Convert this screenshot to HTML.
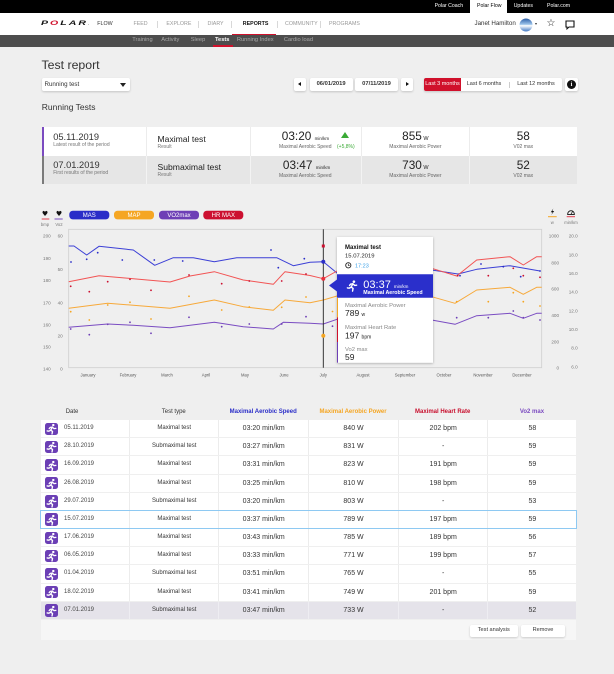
<!DOCTYPE html>
<html><head><meta charset="utf-8">
<style>
*{box-sizing:border-box}
body{margin:0;width:614px;height:674px;overflow:hidden;background:#efefef;position:relative;font-family:"Liberation Sans",Arial,sans-serif;color:#333}
.a{position:absolute;white-space:nowrap;line-height:1}
.box{position:absolute}
.sep{position:absolute;width:1px;height:7px;top:20.8px;background:#d8d8d8}
.btn{position:absolute;background:#fff;border-radius:2px;box-shadow:0 1px 2px rgba(0,0,0,.18)}
.row{position:absolute;left:40.7px;width:535.7px;height:17.2px;background:#fff}
.c{position:absolute;top:0;height:17.2px;border-left:1px solid #ececec;text-align:center;line-height:17.2px;font-size:7px;color:#333}
.ic{position:absolute;left:4.3px;top:2.5px;width:13px;height:12.3px;border-radius:2.5px;background:#6b3fb5}
.dt{position:absolute;left:23.3px;top:0;line-height:17.2px;font-size:6px;color:#444}
.tt{font-size:6px}
</style></head><body>

<svg width="0" height="0" style="position:absolute">
<defs>
<symbol id="run" viewBox="0 0 24 24">
<circle cx="15.5" cy="4" r="2.4" fill="#fff"/>
<g fill="none" stroke="#fff" stroke-width="2.6" stroke-linecap="round" stroke-linejoin="round">
<path d="M13.5 8 L10.5 14"/><path d="M10.5 14 L7 16 L3.5 15.5"/><path d="M10.5 14 L14 16.5 L13 21.5"/>
<path d="M13.5 8 L17 11 L20.5 10.5"/><path d="M13.5 8 L9.5 8.5 L7.5 11"/>
</g>
</symbol>
</defs>
</svg>

<!-- top black bar -->
<div class="box" style="left:0;top:0;width:614px;height:13px;background:#000"></div>
<div class="a" style="left:434.6px;top:3.9px;font-size:5.2px;color:#fff">Polar Coach</div>
<div class="box" style="left:470px;top:0;width:37px;height:13px;background:#fff"></div>
<div class="a" style="left:477px;top:3.9px;font-size:5.2px;color:#000">Polar Flow</div>
<div class="a" style="left:513.7px;top:3.9px;font-size:5.2px;color:#fff">Updates</div>
<div class="a" style="left:547px;top:3.9px;font-size:5.2px;color:#fff">Polar.com</div>

<!-- nav -->
<div class="box" style="left:0;top:13px;width:614px;height:22px;background:#fff"></div>
<div class="a" style="left:40.5px;top:20.6px;font-size:6.8px;font-weight:900;font-style:italic;letter-spacing:1.3px;color:#111;transform:scale(1.55,1);transform-origin:0 0">P<span style="color:#d0102b">O</span>LAR<span style="font-size:3px;letter-spacing:0">.</span></div>
<div class="a" style="left:97.3px;top:21.6px;font-size:5.3px;color:#333">FLOW</div>
<div class="a" style="left:133.5px;top:21.6px;font-size:5.3px;color:#999">FEED</div>
<div class="sep" style="left:156.6px"></div>
<div class="a" style="left:166.4px;top:21.6px;font-size:5.3px;color:#999">EXPLORE</div>
<div class="sep" style="left:197.7px"></div>
<div class="a" style="left:207.5px;top:21.6px;font-size:5.3px;color:#999">DIARY</div>
<div class="sep" style="left:231px"></div>
<div class="a" style="left:242.8px;top:21.6px;font-size:5.3px;color:#111;font-weight:bold">REPORTS</div>
<div class="box" style="left:231.8px;top:33.5px;width:44.2px;height:1.6px;background:#d0102b"></div>
<div class="sep" style="left:276.8px"></div>
<div class="a" style="left:285px;top:21.6px;font-size:5.3px;color:#999">COMMUNITY</div>
<div class="sep" style="left:320px"></div>
<div class="a" style="left:329px;top:21.6px;font-size:5.3px;color:#999">PROGRAMS</div>

<div class="a" style="left:474.5px;top:21px;font-size:6.2px;color:#333">Janet Hamilton</div>
<svg class="box" style="left:518.5px;top:17.5px" width="14" height="14" viewBox="0 0 14 14">
<defs><linearGradient id="av" x1="0" y1="0" x2="0" y2="1"><stop offset="0" stop-color="#2c5fa8"/><stop offset=".45" stop-color="#9cc3ea"/><stop offset=".55" stop-color="#fff"/><stop offset="1" stop-color="#3f78c4"/></linearGradient></defs>
<circle cx="7" cy="7" r="6.5" fill="url(#av)"/></svg>
<div class="box" style="left:535px;top:22.8px;width:0;height:0;border-left:1.8px solid transparent;border-right:1.8px solid transparent;border-top:2.4px solid #333"></div>
<div class="a" style="left:546.5px;top:19px;font-size:10px;color:#111;font-family:'DejaVu Sans',sans-serif">☆</div>
<svg class="box" style="left:565px;top:19.5px" width="10" height="10" viewBox="0 0 10 10">
<path d="M1 1 H9 V7 H4 L2 8.8 V7 H1 Z" fill="none" stroke="#111" stroke-width="1.1"/></svg>

<!-- subnav -->
<div class="box" style="left:0;top:35px;width:614px;height:12px;background:#4d4d4d"></div>
<div class="a" style="left:132.3px;top:38.1px;font-size:5.7px;color:#a9a9a9">Training</div>
<div class="a" style="left:161.3px;top:38.1px;font-size:5.7px;color:#a9a9a9">Activity</div>
<div class="a" style="left:190.7px;top:38.1px;font-size:5.7px;color:#a9a9a9">Sleep</div>
<div class="a" style="left:215px;top:38.1px;font-size:5.7px;color:#fff;font-weight:bold">Tests</div>
<div class="box" style="left:213.4px;top:45.4px;width:19.6px;height:1.6px;background:#d0102b"></div>
<div class="a" style="left:236.9px;top:38.1px;font-size:5.7px;color:#a9a9a9">Running Index</div>
<div class="a" style="left:283.9px;top:38.1px;font-size:5.7px;color:#a9a9a9">Cardio load</div>

<!-- title / controls -->
<div class="a" style="left:41.5px;top:59.3px;font-size:12.3px;color:#333">Test report</div>
<div class="btn" style="left:41.8px;top:78.3px;width:88px;height:13px"></div>
<div class="a" style="left:44.5px;top:81.7px;font-size:6.2px;color:#333">Running test</div>
<div class="box" style="left:120px;top:83.2px;width:0;height:0;border-left:3.2px solid transparent;border-right:3.2px solid transparent;border-top:4px solid #222"></div>

<div class="btn" style="left:294px;top:78.3px;width:12px;height:13px"></div>
<div class="box" style="left:298px;top:82px;width:0;height:0;border-top:2.8px solid transparent;border-bottom:2.8px solid transparent;border-right:3.6px solid #111"></div>
<div class="btn" style="left:309.6px;top:78.3px;width:43px;height:13px"></div>
<div class="a" style="left:309.6px;width:43px;text-align:center;top:81.9px;font-size:5.8px;font-weight:bold;color:#333">06/01/2019</div>
<div class="btn" style="left:355px;top:78.3px;width:43px;height:13px"></div>
<div class="a" style="left:355px;width:43px;text-align:center;top:81.9px;font-size:5.8px;font-weight:bold;color:#333">07/11/2019</div>
<div class="btn" style="left:401px;top:78.3px;width:12px;height:13px"></div>
<div class="box" style="left:405.5px;top:82px;width:0;height:0;border-top:2.8px solid transparent;border-bottom:2.8px solid transparent;border-left:3.6px solid #111"></div>

<div class="btn" style="left:423.6px;top:78.3px;width:138.4px;height:13px"></div>
<div class="box" style="left:423.6px;top:78.3px;width:37.8px;height:13px;background:#d0102b;border-radius:2px 0 0 2px"></div>
<div class="a" style="left:423.6px;width:37.8px;text-align:center;top:82px;font-size:5.5px;color:#fff">Last 3 months</div>
<div class="a" style="left:466px;width:36px;text-align:center;top:82px;font-size:5.5px;color:#333">Last 6 months</div>
<div class="box" style="left:508.6px;top:81.5px;width:0.8px;height:6.5px;background:#ccc"></div>
<div class="a" style="left:515px;width:42px;text-align:center;top:82px;font-size:5.5px;color:#333">Last 12 months</div>
<div class="btn" style="left:565px;top:78.3px;width:13px;height:13px"></div>
<div class="box" style="left:567px;top:80.3px;width:9px;height:9px;border-radius:50%;background:#111"></div>
<div class="a" style="left:567px;width:9px;text-align:center;top:81.6px;font-size:6.5px;font-weight:bold;color:#fff;font-family:'Liberation Serif',serif">i</div>

<div class="a" style="left:41.8px;top:103px;font-size:8.5px;color:#333">Running Tests</div>

<!-- summary cards -->
<div class="box" style="left:41.8px;top:126.7px;width:535.7px;height:29px;background:#fff;border-left:2px solid #7b4bc0"></div>
<div class="box" style="left:41.8px;top:155.7px;width:535.7px;height:28.6px;background:#e6e6e6;border-left:2px solid #7a7a7a"></div>
<div class="box" style="left:146px;top:126.7px;width:1px;height:29px;background:#ececec"></div>
<div class="box" style="left:250.4px;top:126.7px;width:1px;height:29px;background:#ececec"></div>
<div class="box" style="left:361.4px;top:126.7px;width:1px;height:29px;background:#ececec"></div>
<div class="box" style="left:469.3px;top:126.7px;width:1px;height:29px;background:#ececec"></div>
<div class="box" style="left:146px;top:155.7px;width:1px;height:28.6px;background:#f3f3f3"></div>
<div class="box" style="left:250.4px;top:155.7px;width:1px;height:28.6px;background:#f3f3f3"></div>
<div class="box" style="left:361.4px;top:155.7px;width:1px;height:28.6px;background:#f3f3f3"></div>
<div class="box" style="left:469.3px;top:155.7px;width:1px;height:28.6px;background:#f3f3f3"></div>

<div class="a" style="left:53.2px;top:132.5px;font-size:9.3px;color:#333">05.11.2019</div>
<div class="a" style="left:53.2px;top:142.8px;font-size:5px;color:#777">Latest result of the period</div>
<div class="a" style="left:157.5px;top:135.2px;font-size:8.6px;color:#222">Maximal test</div>
<div class="a" style="left:157.5px;top:144.8px;font-size:5px;color:#777">Result</div>
<div class="a" style="left:281.8px;top:130.8px;font-size:11.8px;color:#222">03:20 <span style="font-size:4.5px">min/km</span></div>
<div class="box" style="left:341.4px;top:132.2px;width:0;height:0;border-left:4.5px solid transparent;border-right:4.5px solid transparent;border-bottom:6.3px solid #3aaa35"></div>
<div class="a" style="left:279px;top:144.8px;font-size:5px;color:#666">Maximal Aerobic Speed</div>
<div class="a" style="left:337px;top:144.8px;font-size:5px;color:#3aaa35">(+5,8%)</div>
<div class="a" style="left:361.4px;width:108px;text-align:center;top:130.8px;font-size:11.8px;color:#222">855<span style="font-size:5.5px"> W</span></div>
<div class="a" style="left:361.4px;width:108px;text-align:center;top:144.8px;font-size:5px;color:#666">Maximal Aerobic Power</div>
<div class="a" style="left:469.3px;width:108px;text-align:center;top:130.8px;font-size:11.8px;color:#222">58</div>
<div class="a" style="left:469.3px;width:108px;text-align:center;top:144.8px;font-size:5px;color:#666">V02 max</div>

<div class="a" style="left:53.2px;top:161.3px;font-size:9.3px;color:#333">07.01.2019</div>
<div class="a" style="left:53.2px;top:171.3px;font-size:5px;color:#777">First results of the period</div>
<div class="a" style="left:157.5px;top:163px;font-size:8.6px;color:#222">Submaximal test</div>
<div class="a" style="left:157.5px;top:172.8px;font-size:5px;color:#777">Result</div>
<div class="a" style="left:282.9px;top:159.8px;font-size:11.8px;color:#222">03:47 <span style="font-size:4.5px">min/km</span></div>
<div class="a" style="left:279px;top:174.2px;font-size:5px;color:#666">Maximal Aerobic Speed</div>
<div class="a" style="left:361.4px;width:108px;text-align:center;top:159.8px;font-size:11.8px;color:#222">730<span style="font-size:5.5px"> W</span></div>
<div class="a" style="left:361.4px;width:108px;text-align:center;top:174.2px;font-size:5px;color:#666">Maximal Aerobic Power</div>
<div class="a" style="left:469.3px;width:108px;text-align:center;top:159.8px;font-size:11.8px;color:#222">52</div>
<div class="a" style="left:469.3px;width:108px;text-align:center;top:174.2px;font-size:5px;color:#666">V02 max</div>

<!-- chart -->
<svg class="box" style="left:0;top:195px" width="614" height="200" viewBox="0 195 614 200" font-family="Liberation Sans, Arial, sans-serif">
<defs><filter id="sh" x="-10%" y="-10%" width="120%" height="120%"><feDropShadow dx="0" dy="0.8" stdDeviation="1.2" flood-color="#000" flood-opacity="0.3"/></filter></defs>
<text x="45" y="216" font-size="7" text-anchor="middle" fill="#111" font-family="DejaVu Sans, sans-serif">♥</text>
<rect x="41.7" y="218.5" width="7.6" height="1" fill="#e04050"/>
<text x="45" y="225.8" font-size="4.2" text-anchor="middle" fill="#777">bmp</text>
<text x="59" y="216" font-size="7" text-anchor="middle" fill="#111" font-family="DejaVu Sans, sans-serif">♥</text>
<rect x="54.5" y="218.5" width="8.2" height="1" fill="#7a4cc2"/>
<text x="59" y="225.8" font-size="4.2" text-anchor="middle" fill="#777">Vo2</text>
<rect x="69.3" y="210.7" width="40" height="8.7" rx="3.5" fill="#2a2dc8"/>
<text x="89.3" y="217.2" font-size="6" text-anchor="middle" fill="#fff">MAS</text>
<rect x="114" y="210.7" width="40" height="8.7" rx="3.5" fill="#f5a623"/>
<text x="134" y="217.2" font-size="6" text-anchor="middle" fill="#fff">MAP</text>
<rect x="159" y="210.7" width="40" height="8.7" rx="3.5" fill="#6e3fb6"/>
<text x="179" y="217.2" font-size="6" text-anchor="middle" fill="#fff">VO2max</text>
<rect x="203.3" y="210.7" width="40" height="8.7" rx="3.5" fill="#cc1030"/>
<text x="223.3" y="217.2" font-size="6" text-anchor="middle" fill="#fff">HR MAX</text>
<path d="M553.3 208.5 L550.8 212.3 L552.6 212.3 L551.3 215 L554.2 211 L552.4 211 Z" fill="#111"/>
<rect x="548" y="216.2" width="8.7" height="1" fill="#f5a623"/>
<text x="552.3" y="224" font-size="4.2" text-anchor="middle" fill="#777">w</text>
<path d="M567.7 214 A3.3 3.3 0 0 1 574.3 214 L574.3 214.6 L567.7 214.6 Z" fill="none" stroke="#111" stroke-width="0.9"/>
<path d="M571 214 L572.6 211.6" stroke="#111" stroke-width="0.7"/>
<rect x="566.7" y="216.2" width="8.3" height="1" fill="#e04050"/>
<text x="571" y="224" font-size="4.2" text-anchor="middle" fill="#777">min/km</text>

<rect x="68.7" y="229.3" width="473" height="138.4" fill="none" stroke="#cfcfcf" stroke-width="0.8"/>
<g font-size="4.6" fill="#777" text-anchor="end">
<text x="50.7" y="237.6">200</text><text x="50.7" y="259.9">190</text><text x="50.7" y="282">180</text>
<text x="50.7" y="304.4">170</text><text x="50.7" y="326.6">160</text><text x="50.7" y="348.6">150</text><text x="50.7" y="370.6">140</text>
<text x="62.7" y="237.6">60</text><text x="62.7" y="270.9">50</text><text x="62.7" y="304.4">40</text><text x="62.7" y="337.6">20</text><text x="62.7" y="370.6">0</text>
<text x="559" y="237.6">1000</text><text x="559" y="264.3">800</text><text x="559" y="290.6">600</text><text x="559" y="316.9">400</text><text x="559" y="343.3">200</text><text x="559" y="369.6">0</text>
<text x="577.7" y="237.6">20.0</text><text x="577.7" y="256.3">18.0</text><text x="577.7" y="275">16.0</text><text x="577.7" y="293.6">14.0</text><text x="577.7" y="312.3">12.0</text><text x="577.7" y="331">10.0</text><text x="577.7" y="349.6">8.0</text><text x="577.7" y="368.6">6.0</text>
</g>
<g font-size="4.2" fill="#555" text-anchor="middle">
<text x="88" y="376.6">January</text><text x="128" y="376.6">February</text><text x="167" y="376.6">March</text>
<text x="206" y="376.6">April</text><text x="245" y="376.6">May</text><text x="284" y="376.6">June</text>
<text x="323.3" y="376.6">July</text><text x="363" y="376.6">August</text><text x="405" y="376.6">September</text>
<text x="444" y="376.6">October</text><text x="483" y="376.6">November</text><text x="522" y="376.6">December</text>
</g>
<g fill="none" stroke-width="1" stroke-linejoin="round">
<polyline stroke="#3b3fd6" points="68.7,246 74,246 86.7,255 99,246.3 133.3,250 154.7,265.3 173.3,257.7 193.3,257.7 214.3,261.7 236.7,257.7 276.7,257.7 293.3,265.7 310,262.3 323.3,261.7 337,273 431.7,270 458,274 476.7,269.3 510,265.7 540,271"/>
<polyline stroke="#f25454" points="68.7,281.7 99,275.7 133.3,278.7 170,282 190,276 214.3,271.7 243.3,280 273.3,284.3 285,271.7 310,275.5 323.3,278.7 337,271 431.7,268.3 456.7,276 476.7,260 510,256.7 523.3,265 536.7,256.7 541.7,256.7"/>
<polyline stroke="#f7a93a" points="68.7,308.3 107.7,303.3 133.3,305.3 170,308.3 214.3,300 243.3,306.7 273.3,310.3 285,300 310,302.7 323.3,300 337,296 431.7,296.7 455,303.3 476.7,290 510,287.3 523.3,294.3 536.7,287.3 541.7,287.3"/>
<polyline stroke="#7a4cc2" points="68.7,327.3 107.7,324 133.3,325.3 170,327.7 214.3,322.3 243.3,326.7 273.3,329 283.3,322.3 310,323.3 323.3,324 337,319.3 431.7,320 455,324.3 476.7,315.7 510,313.3 523.3,318.3 536.7,313.3 541.7,313.3"/>
</g>
<g fill="#2a2dc8">
<circle cx="71" cy="262" r="0.9"/><circle cx="86.7" cy="259.3" r="0.9"/><circle cx="97.7" cy="252.7" r="0.9"/><circle cx="122.3" cy="260" r="0.9"/><circle cx="154.3" cy="260" r="0.9"/><circle cx="182.7" cy="261" r="0.9"/><circle cx="271" cy="250" r="0.9"/><circle cx="278.3" cy="267.7" r="0.9"/><circle cx="304.3" cy="258.7" r="0.9"/><circle cx="460" cy="275.7" r="0.9"/><circle cx="481" cy="264" r="0.9"/><circle cx="503.3" cy="266.7" r="0.9"/><circle cx="520.7" cy="276.7" r="0.9"/><circle cx="540" cy="271" r="0.9"/>
</g>
<g fill="#cc1030">
<circle cx="70.7" cy="286.3" r="0.9"/><circle cx="89.3" cy="291.7" r="0.9"/><circle cx="107.7" cy="281.7" r="0.9"/><circle cx="130" cy="279.3" r="0.9"/><circle cx="151" cy="290.3" r="0.9"/><circle cx="189" cy="275" r="0.9"/><circle cx="221.7" cy="283.7" r="0.9"/><circle cx="249.3" cy="281" r="0.9"/><circle cx="281.7" cy="281" r="0.9"/><circle cx="306" cy="274" r="0.9"/><circle cx="457.7" cy="275.7" r="0.9"/><circle cx="488.3" cy="275.7" r="0.9"/><circle cx="513.3" cy="268.3" r="0.9"/><circle cx="523.3" cy="275.7" r="0.9"/><circle cx="540" cy="277.3" r="0.9"/>
</g>
<g fill="#f5a623">
<circle cx="70.7" cy="311.7" r="0.9"/><circle cx="89.3" cy="320" r="0.9"/><circle cx="107.7" cy="305" r="0.9"/><circle cx="130" cy="302.3" r="0.9"/><circle cx="151" cy="319" r="0.9"/><circle cx="189" cy="296.3" r="0.9"/><circle cx="221.7" cy="310" r="0.9"/><circle cx="249.3" cy="307" r="0.9"/><circle cx="281.7" cy="307.3" r="0.9"/><circle cx="306" cy="297" r="0.9"/><circle cx="332.5" cy="311.5" r="0.9"/><circle cx="456.7" cy="301.7" r="0.9"/><circle cx="488.3" cy="301.7" r="0.9"/><circle cx="513.3" cy="292.7" r="0.9"/><circle cx="523.3" cy="301.7" r="0.9"/><circle cx="540" cy="306" r="0.9"/>
</g>
<g fill="#6e3fb6">
<circle cx="70.7" cy="329" r="0.9"/><circle cx="89.3" cy="334.7" r="0.9"/><circle cx="107.7" cy="324.3" r="0.9"/><circle cx="130" cy="322.3" r="0.9"/><circle cx="151" cy="333.3" r="0.9"/><circle cx="189" cy="317.3" r="0.9"/><circle cx="221.7" cy="326.7" r="0.9"/><circle cx="249.3" cy="324" r="0.9"/><circle cx="281.7" cy="324" r="0.9"/><circle cx="306" cy="316.7" r="0.9"/><circle cx="332.5" cy="326.2" r="0.9"/><circle cx="456.7" cy="317.7" r="0.9"/><circle cx="488.3" cy="317.7" r="0.9"/><circle cx="513.3" cy="311" r="0.9"/><circle cx="523.3" cy="317.7" r="0.9"/><circle cx="540" cy="320" r="0.9"/>
</g>
<line x1="323.3" y1="229.3" x2="323.3" y2="367.7" stroke="#222" stroke-width="0.9"/>
<rect x="321.8" y="244.5" width="3" height="3" fill="#cc1030"/>
<circle cx="323.3" cy="261.7" r="2" fill="#2a2dc8"/>
<circle cx="323.3" cy="278.7" r="2" fill="#e8303c"/>
<circle cx="323.3" cy="335.7" r="2" fill="#f5a623"/>
<rect x="337" y="237" width="96" height="125.7" fill="#fff" filter="url(#sh)"/>
<text x="345" y="249.1" font-size="6" font-weight="bold" fill="#111">Maximal test</text>
<text x="345" y="257.4" font-size="5.9" fill="#222">15.07.2019</text>
<circle cx="348.3" cy="265.3" r="2.6" fill="none" stroke="#222" stroke-width="0.9"/>
<path d="M348.3 263.8 V265.4 H349.6" fill="none" stroke="#222" stroke-width="0.7"/>
<text x="355" y="267.4" font-size="5.5" fill="#3aa0e8">17:23</text>
<path d="M337 274.3 H433 V297.7 H337 V291.5 L329 285.5 L337 279.5 Z" fill="#2a2fcb"/>
<svg x="345.5" y="279.5" width="13" height="13" viewBox="0 0 24 24"><use href="#run"/></svg>
<text x="363.3" y="288" font-size="11" fill="#fff">03:37 <tspan font-size="4.5">min/km</tspan></text>
<text x="363.3" y="294" font-size="5.3" font-weight="bold" fill="#fff">Maximal Aerobic Speed</text>
<rect x="337" y="297.7" width="1" height="19.6" fill="#f5a623"/>
<rect x="337" y="317.3" width="1" height="24.7" fill="#d0102b"/>
<rect x="337" y="342" width="1" height="20.7" fill="#6e3fb6"/>
<text x="345" y="306.8" font-size="5.8" fill="#888">Maximal Aerobic Power</text>
<text x="345" y="316" font-size="8.5" fill="#222">789 <tspan font-size="5">w</tspan></text>
<text x="345" y="329" font-size="5.8" fill="#888">Maximal Heart Rate</text>
<text x="345" y="338.5" font-size="8.5" fill="#222">197 <tspan font-size="5">bpm</tspan></text>
<text x="345" y="350.8" font-size="5.8" fill="#888">Vo2 max</text>
<text x="345" y="360" font-size="8.5" fill="#222">59</text>
</svg>

<!-- table header -->
<div class="a" style="left:65.7px;top:408.7px;font-size:6px;color:#333">Date</div>
<div class="a" style="left:129.3px;width:88.9px;text-align:center;top:408.7px;font-size:6px;color:#333">Test type</div>
<div class="a" style="left:218.2px;width:90px;text-align:center;top:408.7px;font-size:6px;font-weight:bold;color:#2a2dc8">Maximal Aerobic Speed</div>
<div class="a" style="left:308.2px;width:89.7px;text-align:center;top:408.7px;font-size:6px;font-weight:bold;color:#f5a623">Maximal Aerobic Power</div>
<div class="a" style="left:397.9px;width:89.6px;text-align:center;top:408.7px;font-size:6px;font-weight:bold;color:#c8102e">Maximal Heart Rate</div>
<div class="a" style="left:487.5px;width:88.9px;text-align:center;top:408.7px;font-size:6px;font-weight:bold;color:#7b4bc0">Vo2 max</div>

<!-- rows -->
<div class="row" style="top:420px"><div class="ic"><svg width="13" height="12.3" viewBox="0 0 24 24"><use href="#run"/></svg></div><div class="dt">05.11.2019</div>
<div class="c tt" style="left:88.6px;width:88.9px">Maximal test</div><div class="c" style="left:177.5px;width:90px">03:20 min/km</div><div class="c" style="left:267.5px;width:89.7px">840 W</div><div class="c" style="left:357.2px;width:89.6px">202 bpm</div><div class="c" style="left:446.8px;width:88.9px">58</div></div>

<div class="row" style="top:438.18px"><div class="ic"><svg width="13" height="12.3" viewBox="0 0 24 24"><use href="#run"/></svg></div><div class="dt">28.10.2019</div>
<div class="c tt" style="left:88.6px;width:88.9px">Submaximal test</div><div class="c" style="left:177.5px;width:90px">03:27 min/km</div><div class="c" style="left:267.5px;width:89.7px">831 W</div><div class="c" style="left:357.2px;width:89.6px">-</div><div class="c" style="left:446.8px;width:88.9px">59</div></div>

<div class="row" style="top:456.36px"><div class="ic"><svg width="13" height="12.3" viewBox="0 0 24 24"><use href="#run"/></svg></div><div class="dt">16.09.2019</div>
<div class="c tt" style="left:88.6px;width:88.9px">Maximal test</div><div class="c" style="left:177.5px;width:90px">03:31 min/km</div><div class="c" style="left:267.5px;width:89.7px">823 W</div><div class="c" style="left:357.2px;width:89.6px">191 bpm</div><div class="c" style="left:446.8px;width:88.9px">59</div></div>

<div class="row" style="top:474.55px"><div class="ic"><svg width="13" height="12.3" viewBox="0 0 24 24"><use href="#run"/></svg></div><div class="dt">26.08.2019</div>
<div class="c tt" style="left:88.6px;width:88.9px">Maximal test</div><div class="c" style="left:177.5px;width:90px">03:25 min/km</div><div class="c" style="left:267.5px;width:89.7px">810 W</div><div class="c" style="left:357.2px;width:89.6px">198 bpm</div><div class="c" style="left:446.8px;width:88.9px">59</div></div>

<div class="row" style="top:492.73px"><div class="ic"><svg width="13" height="12.3" viewBox="0 0 24 24"><use href="#run"/></svg></div><div class="dt">29.07.2019</div>
<div class="c tt" style="left:88.6px;width:88.9px">Submaximal test</div><div class="c" style="left:177.5px;width:90px">03:20 min/km</div><div class="c" style="left:267.5px;width:89.7px">803 W</div><div class="c" style="left:357.2px;width:89.6px">-</div><div class="c" style="left:446.8px;width:88.9px">53</div></div>

<div class="row" style="top:510.91px"><div class="ic"><svg width="13" height="12.3" viewBox="0 0 24 24"><use href="#run"/></svg></div><div class="dt">15.07.2019</div>
<div class="c tt" style="left:88.6px;width:88.9px">Maximal test</div><div class="c" style="left:177.5px;width:90px">03:37 min/km</div><div class="c" style="left:267.5px;width:89.7px">789 W</div><div class="c" style="left:357.2px;width:89.6px">197 bpm</div><div class="c" style="left:446.8px;width:88.9px">59</div></div>
<div class="box" style="left:40.2px;top:510.4px;width:536.7px;height:18.2px;border:1.2px solid #8ec9f2"></div>

<div class="row" style="top:529.09px"><div class="ic"><svg width="13" height="12.3" viewBox="0 0 24 24"><use href="#run"/></svg></div><div class="dt">17.06.2019</div>
<div class="c tt" style="left:88.6px;width:88.9px">Maximal test</div><div class="c" style="left:177.5px;width:90px">03:43 min/km</div><div class="c" style="left:267.5px;width:89.7px">785 W</div><div class="c" style="left:357.2px;width:89.6px">189 bpm</div><div class="c" style="left:446.8px;width:88.9px">56</div></div>

<div class="row" style="top:547.27px"><div class="ic"><svg width="13" height="12.3" viewBox="0 0 24 24"><use href="#run"/></svg></div><div class="dt">06.05.2019</div>
<div class="c tt" style="left:88.6px;width:88.9px">Maximal test</div><div class="c" style="left:177.5px;width:90px">03:33 min/km</div><div class="c" style="left:267.5px;width:89.7px">771 W</div><div class="c" style="left:357.2px;width:89.6px">199 bpm</div><div class="c" style="left:446.8px;width:88.9px">57</div></div>

<div class="row" style="top:565.45px"><div class="ic"><svg width="13" height="12.3" viewBox="0 0 24 24"><use href="#run"/></svg></div><div class="dt">01.04.2019</div>
<div class="c tt" style="left:88.6px;width:88.9px">Submaximal test</div><div class="c" style="left:177.5px;width:90px">03:51 min/km</div><div class="c" style="left:267.5px;width:89.7px">765 W</div><div class="c" style="left:357.2px;width:89.6px">-</div><div class="c" style="left:446.8px;width:88.9px">55</div></div>

<div class="row" style="top:583.64px"><div class="ic"><svg width="13" height="12.3" viewBox="0 0 24 24"><use href="#run"/></svg></div><div class="dt">18.02.2019</div>
<div class="c tt" style="left:88.6px;width:88.9px">Maximal test</div><div class="c" style="left:177.5px;width:90px">03:41 min/km</div><div class="c" style="left:267.5px;width:89.7px">749 W</div><div class="c" style="left:357.2px;width:89.6px">201 bpm</div><div class="c" style="left:446.8px;width:88.9px">59</div></div>

<div class="row" style="top:601.82px;background:#e5e3ea"><div class="ic"><svg width="13" height="12.3" viewBox="0 0 24 24"><use href="#run"/></svg></div><div class="dt">07.01.2019</div>
<div class="c tt" style="left:88.6px;width:88.9px;border-left-color:#eeedf2">Submaximal test</div><div class="c" style="left:177.5px;width:90px;border-left-color:#eeedf2">03:47 min/km</div><div class="c" style="left:267.5px;width:89.7px;border-left-color:#eeedf2">733 W</div><div class="c" style="left:357.2px;width:89.6px;border-left-color:#eeedf2">-</div><div class="c" style="left:446.8px;width:88.9px;border-left-color:#eeedf2">52</div></div>

<!-- footer -->
<div class="box" style="left:40.7px;top:620px;width:535.7px;height:20px;background:#f6f6f6"></div>
<div class="btn" style="left:470px;top:625px;width:47.5px;height:12.3px"></div>
<div class="a" style="left:470px;width:47.5px;text-align:center;top:628.3px;font-size:5.6px;color:#333">Test analysis</div>
<div class="btn" style="left:521px;top:625px;width:44px;height:12.3px"></div>
<div class="a" style="left:521px;width:44px;text-align:center;top:628.3px;font-size:5.6px;color:#333">Remove</div>

</body></html>
